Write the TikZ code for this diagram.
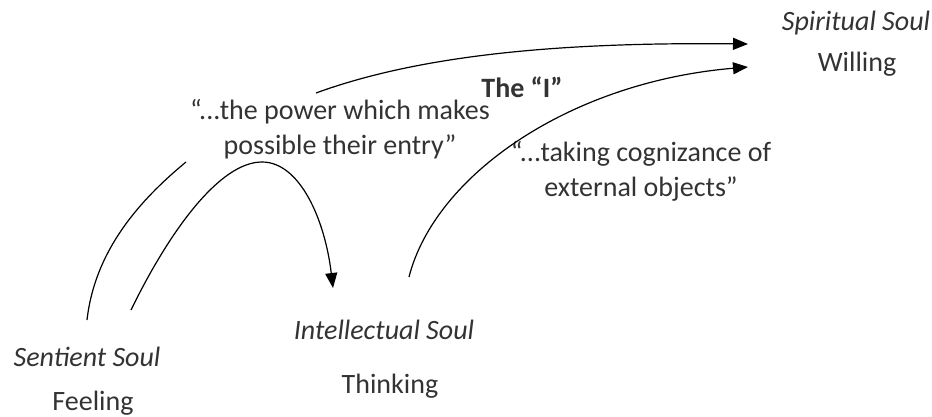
\documentclass[tikz,border=0pt]{standalone}
\usepackage{fontspec}
\setmainfont{Carlito}
\usetikzlibrary{arrows.meta}
\definecolor{txt}{HTML}{333333}
\tikzset{
  lbl/.style={text=txt, inner sep=0pt, font=\fontsize{28}{35}\selectfont, align=center},
  ital/.style={lbl, font=\fontsize{28}{35}\selectfont\itshape},
  curve/.style={line width=1.2pt, black},
  arr/.style={curve, -{Triangle[length=15pt,width=12pt]}}
}
\begin{document}
\begin{tikzpicture}[x=1pt,y=-1pt]
\useasboundingbox (0,0) rectangle (932,417);
\node[ital] (spirit) at (856,23) {Spiritual Soul};
\node[lbl] (will) at (857,64) {Willing};
\node[lbl, font=\fontsize{28}{35}\selectfont\bfseries] (theI) at (522,87) {The “I”};
\node[lbl] (power) at (340,129) {“...the power which makes\\possible their entry”};
\node[lbl] (cogn) at (641,171) {“...taking cognizance of\\external objects”};
\node[ital] (intel) at (384,330) {Intellectual Soul};
\node[lbl] (think) at (390,386) {Thinking};
\node[ital] (sent) at (87,357) {Sentient Soul};
\node[lbl] (feel) at (93,403) {Feeling};

\coordinate (a1) at (316,93);
\coordinate (a2) at (748,44);
\coordinate (b1) at (409,277);
\coordinate (b2) at (748,67);
\coordinate (c1) at (131,310);
\coordinate (cp) at (262,162);
\coordinate (c2) at (333,288);
\coordinate (d1) at (87,320);
\coordinate (d2) at (186,162);

\draw[arr] (a1) .. controls (420,55) and (560,42) .. (a2);
\draw[arr] (b1) .. controls (435,175) and (570,82) .. (b2);
\draw[arr] (c1) .. controls (170,230) and (220,162) .. (cp) .. controls (300,162) and (325,220) .. (c2);
\draw[curve] (d1) .. controls (95,250) and (140,200) .. (d2);
\end{tikzpicture}
\end{document}
